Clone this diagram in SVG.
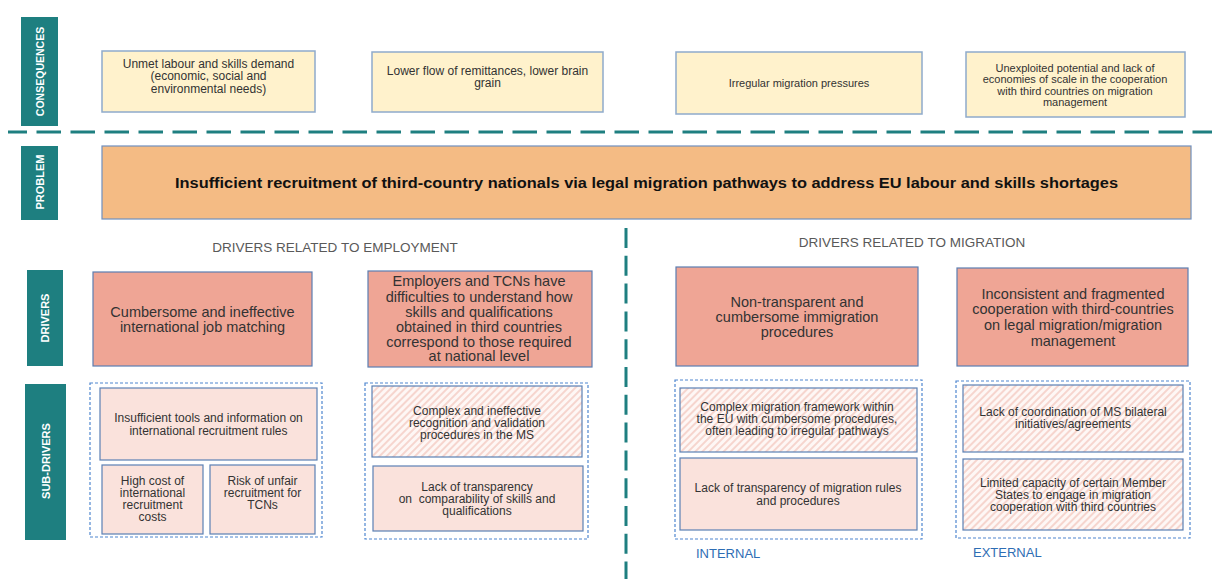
<svg xmlns="http://www.w3.org/2000/svg" width="1217" height="579" viewBox="0 0 1217 579">
<defs>
<style>
.lbl{fill:#1E7F80}
.lt{font-family:"Liberation Sans",Arial,sans-serif;font-weight:bold;font-size:11px;fill:#fff;text-anchor:middle;dominant-baseline:central}
.cons{fill:#FFF2CC;stroke:#8FAACB;stroke-width:1.5}
.prob{fill:#F4BB84;stroke:#6F8FBF;stroke-width:1.2}
.drv{fill:#EFA595;stroke:#5B7EB2;stroke-width:1.2}
.sub{fill:#FAE2DC;stroke:#5B80B5;stroke-width:1.2}
.hat{fill:url(#hatch);stroke:#5B80B5;stroke-width:1.2}
.grp{fill:none;stroke:#4F86CF;stroke-width:1.2;stroke-dasharray:3 2}
.t{font-family:"Liberation Sans",Arial,sans-serif;fill:#333;text-anchor:middle;dominant-baseline:central}
.s11{font-size:11px}.s12{font-size:12px}.s14{font-size:14.5px}
.hdr{font-family:"Liberation Sans",Arial,sans-serif;font-size:13.5px;fill:#595959;text-anchor:middle;dominant-baseline:central}
.io{font-family:"Liberation Sans",Arial,sans-serif;font-size:13px;fill:#2E6DB4;dominant-baseline:central}
.sep{fill:none;stroke:#1E7F80;stroke-width:3}
</style>
<pattern id="hatch" patternUnits="userSpaceOnUse" width="5" height="5" patternTransform="rotate(45)">
<rect width="5" height="5" fill="#FEF7F5"/>
<line x1="1" y1="0" x2="1" y2="5" stroke="#F5CDC5" stroke-width="1.6"/>
</pattern>
</defs>
<rect width="1217" height="579" fill="#fff"/>

<g id="connectors">
<line class="sep" x1="8" y1="132" x2="1212" y2="132" stroke-dasharray="24.5 9.5" stroke-dashoffset="5.5"/>
<line class="sep" x1="626" y1="228" x2="626" y2="579" stroke-dasharray="20 7.8"/>
</g>

<g id="label-consequences">
<rect class="lbl" x="21" y="17" width="37" height="109"/>
<text class="lt" style="font-size:10.5px" x="39.5" y="71.5" transform="rotate(-90 39.5 71.5)">CONSEQUENCES</text>
</g>
<g id="label-problem">
<rect class="lbl" x="21" y="146" width="37" height="74"/>
<text class="lt" x="39.5" y="182" transform="rotate(-90 39.5 182)">PROBLEM</text>
</g>
<g id="label-drivers">
<rect class="lbl" x="27" y="270" width="36" height="96"/>
<text class="lt" x="45" y="318" transform="rotate(-90 45 318)">DRIVERS</text>
</g>
<g id="label-subdrivers">
<rect class="lbl" x="25" y="384" width="41" height="156"/>
<text class="lt" x="45.5" y="461" transform="rotate(-90 45.5 461)">SUB-DRIVERS</text>
</g>

<g id="cons-1">
<rect class="cons" x="102" y="51" width="213" height="61"/>
<text class="t s12" x="208.5"><tspan x="208.5" y="63.5">Unmet labour and skills demand</tspan><tspan x="208.5" y="76">(economic, social and</tspan><tspan x="208.5" y="88.5">environmental needs)</tspan></text>
</g>
<g id="cons-2">
<rect class="cons" x="372" y="52" width="231" height="60"/>
<text class="t s12"><tspan x="487.5" y="71">Lower flow of remittances, lower brain</tspan><tspan x="487.5" y="83">grain</tspan></text>
</g>
<g id="cons-3">
<rect class="cons" x="676" y="52" width="246" height="62"/>
<text class="t s11" x="799" y="83">Irregular migration pressures</text>
</g>
<g id="cons-4">
<rect class="cons" x="966" y="52" width="219" height="65"/>
<text class="t s11"><tspan x="1075" y="67.5">Unexploited potential and lack of</tspan><tspan x="1075" y="79">economies of scale in the cooperation</tspan><tspan x="1075" y="90.5">with third countries on migration</tspan><tspan x="1075" y="102">management</tspan></text>
</g>

<g id="problem">
<rect class="prob" x="102" y="146" width="1089" height="73"/>
<text class="t" style="font-size:14px;font-weight:bold;fill:#111" x="646.5" y="183" textLength="943" lengthAdjust="spacingAndGlyphs">Insufficient recruitment of third-country nationals via legal migration pathways to address EU labour and skills shortages</text>
</g>

<g id="header-employment">
<text class="hdr" x="335" y="247">DRIVERS RELATED TO EMPLOYMENT</text>
</g>
<g id="header-migration">
<text class="hdr" x="912" y="242">DRIVERS RELATED TO MIGRATION</text>
</g>

<g id="driver-1">
<rect class="drv" x="93" y="272" width="219" height="94"/>
<text class="t s14"><tspan x="202.5" y="312">Cumbersome and ineffective</tspan><tspan x="202.5" y="327">international job matching</tspan></text>
</g>
<g id="driver-2">
<rect class="drv" x="368" y="271" width="224" height="96"/>
<text class="t s14"><tspan x="479" y="281">Employers and TCNs have</tspan><tspan x="479" y="296.5">difficulties to understand how</tspan><tspan x="479" y="311.5">skills and qualifications</tspan><tspan x="479" y="326.5">obtained in third countries</tspan><tspan x="479" y="341.5">correspond to those required</tspan><tspan x="479" y="356">at national level</tspan></text>
</g>
<g id="driver-3">
<rect class="drv" x="676" y="267" width="242" height="99"/>
<text class="t s14"><tspan x="797" y="302">Non-transparent and</tspan><tspan x="797" y="317">cumbersome immigration</tspan><tspan x="797" y="332">procedures</tspan></text>
</g>
<g id="driver-4">
<rect class="drv" x="957" y="268" width="231" height="98"/>
<text class="t s14"><tspan x="1073" y="293.5">Inconsistent and fragmented</tspan><tspan x="1073" y="309">cooperation with third-countries</tspan><tspan x="1073" y="325">on legal migration/migration</tspan><tspan x="1073" y="340.5">management</tspan></text>
</g>

<g id="group-employment-1">
<rect class="grp" x="90" y="383" width="232" height="154"/>
</g>
<g id="sub-tools">
<rect class="sub" x="100" y="388" width="217" height="72"/>
<text class="t s12"><tspan x="208.5" y="418">Insufficient tools and information on</tspan><tspan x="208.5" y="430.5">international recruitment rules</tspan></text>
</g>
<g id="sub-cost">
<rect class="sub" x="102" y="465" width="101" height="69"/>
<text class="t s12"><tspan x="152.5" y="481">High cost of</tspan><tspan x="152.5" y="493">international</tspan><tspan x="152.5" y="505">recruitment</tspan><tspan x="152.5" y="517">costs</tspan></text>
</g>
<g id="sub-unfair">
<rect class="sub" x="210" y="465" width="105" height="69"/>
<text class="t s12"><tspan x="262.5" y="481">Risk of unfair</tspan><tspan x="262.5" y="493">recruitment for</tspan><tspan x="262.5" y="505">TCNs</tspan></text>
</g>

<g id="group-employment-2">
<rect class="grp" x="365" y="383" width="223" height="156"/>
</g>
<g id="sub-recognition">
<rect class="hat" x="372" y="386" width="210" height="71"/>
<text class="t s12"><tspan x="477" y="410.5">Complex and ineffective</tspan><tspan x="477" y="422.5">recognition and validation</tspan><tspan x="477" y="434.5">procedures in the MS</tspan></text>
</g>
<g id="sub-comparability">
<rect class="sub" x="373" y="466" width="210" height="65"/>
<text class="t s12" style="white-space:pre"><tspan x="477" y="486.5">Lack of transparency</tspan><tspan x="477" y="498.5">on  comparability of skills and</tspan><tspan x="477" y="510.5">qualifications</tspan></text>
</g>

<g id="group-internal">
<rect class="grp" x="675" y="380" width="247" height="159"/>
<text class="io" x="696" y="553">INTERNAL</text>
</g>
<g id="sub-framework">
<rect class="hat" x="680" y="388" width="237" height="64"/>
<text class="t s12"><tspan x="797" y="407">Complex migration framework within</tspan><tspan x="797" y="419">the EU with cumbersome procedures,</tspan><tspan x="797" y="431">often leading to irregular pathways</tspan></text>
</g>
<g id="sub-migration-rules">
<rect class="sub" x="680" y="458" width="237" height="72"/>
<text class="t s12"><tspan x="798" y="488">Lack of transparency of migration rules</tspan><tspan x="798" y="500.5">and procedures</tspan></text>
</g>

<g id="group-external">
<rect class="grp" x="956" y="381" width="234" height="157"/>
<text class="io" x="973" y="552">EXTERNAL</text>
</g>
<g id="sub-coordination">
<rect class="hat" x="963" y="385" width="220" height="67"/>
<text class="t s12"><tspan x="1073" y="412">Lack of coordination of MS bilateral</tspan><tspan x="1073" y="424">initiatives/agreements</tspan></text>
</g>
<g id="sub-capacity">
<rect class="hat" x="963" y="459" width="220" height="71"/>
<text class="t s12"><tspan x="1073" y="483">Limited capacity of certain Member</tspan><tspan x="1073" y="495">States to engage in migration</tspan><tspan x="1073" y="507">cooperation with third countries</tspan></text>
</g>
</svg>
